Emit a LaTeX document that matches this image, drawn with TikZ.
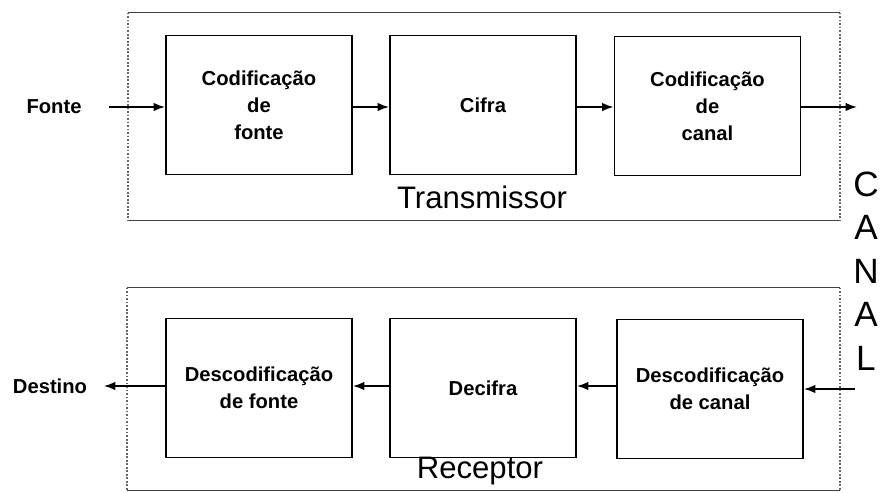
\documentclass[tikz,border=0pt]{standalone}
\usepackage{fontspec}
\setmainfont{Liberation Sans}
\usepackage{tikz}
\usetikzlibrary{arrows.meta, positioning}
\tikzset{%
	block/.style={
		rectangle,
		draw,
		line width=1pt,
		minimum width=3.72cm,
		minimum height=2.78cm,
		align=center,
		font=\bfseries\fontsize{11.5}{15.4}\selectfont
	},
	label text/.style={
		font=\bfseries\fontsize{11.5}{15.4}\selectfont
	},
	frame/.style={
		draw=none,
		rectangle,
		inner sep=0pt
	},
	frame line/.style={
		draw=black!75,
		line width=0.9pt
	},
	frame side/.style={
		draw=black!60,
		line width=1pt,
		densely dotted
	},
	flow/.style={
		-{Latex[length=2.3mm,width=1.7mm]},
		line width=1pt
	},
}

\begin{document}
\begin{tikzpicture}[x=0.02cm, y=-0.02cm]
		\useasboundingbox (0,0) rectangle (887,493);
		
		% Draw the transmitter frame
		\node[frame, minimum width=14.24cm, minimum height=4.14cm] (tx) at (484,116.5) {};
		\draw[frame line] (tx.north west) -- (tx.north east);
		\draw[frame line] (tx.south west) -- (tx.south east);
		\draw[frame side] (tx.north west) -- (tx.south west);
		\draw[frame side] (tx.north east) -- (tx.south east);
		\node[font=\fontsize{17.7}{20}\selectfont] (txlabel) at (482,197) {Transmissor};
		
		% Draw the transmitter blocks
		\node[block] (codfonte) at (259,105) {Codificação\\de\\fonte};
		\node[block] (cifra) at (483,105) {Cifra};
		\node[block] (codcanal) at (707.5,106) {Codificação\\de\\canal};
		
		% Draw the transmitter arrows
		\node[label text] (fonte) at (54,107) {Fonte};
		\coordinate (saida) at (857,107);
		\draw[flow, shorten <=12pt] (fonte.east) -- (fonte.east -| codfonte.west);
		\draw[flow] (codfonte.east |- fonte.east) -- (cifra.west |- fonte.east);
		\draw[flow] (cifra.east |- fonte.east) -- (codcanal.west |- fonte.east);
		\draw[flow] (codcanal.east |- saida) -- (saida);
		
		% Draw the channel
		\node[align=center, font=\fontsize{20}{24.8}\selectfont] (canal) at (866,271) {C\\A\\N\\A\\L};
		
		% Draw the receiver frame
		\node[frame, minimum width=14.26cm, minimum height=4.04cm] (rx) at (483.5,389) {};
		\draw[frame line] (rx.north west) -- (rx.north east);
		\draw[frame line] (rx.south west) -- (rx.south east);
		\draw[frame side] (rx.north west) -- (rx.south west);
		\draw[frame side] (rx.north east) -- (rx.south east);
		\node[font=\fontsize{17.7}{20}\selectfont] (rxlabel) at (480,471) {Receptor};
		
		% Draw the receiver blocks
		\node[block] (descanal) at (710,389) {Descodificação\\de canal};
		\node[block] (decifra) at (483,388) {Decifra};
		\node[block] (desfonte) at (259,388) {Descodificação\\de fonte};
		
		% Draw the receiver arrows
		\node[label text] (destino) at (50,386) {Destino};
		\coordinate (entrada) at (855,389);
		\draw[flow] (entrada) -- (descanal.east |- entrada);
		\draw[flow] (descanal.west |- destino.east) -- (decifra.east |- destino.east);
		\draw[flow] (decifra.west |- destino.east) -- (desfonte.east |- destino.east);
		\draw[flow, shorten >=6pt] (desfonte.west |- destino.east) -- (destino.east);
	\end{tikzpicture}
\end{document}
